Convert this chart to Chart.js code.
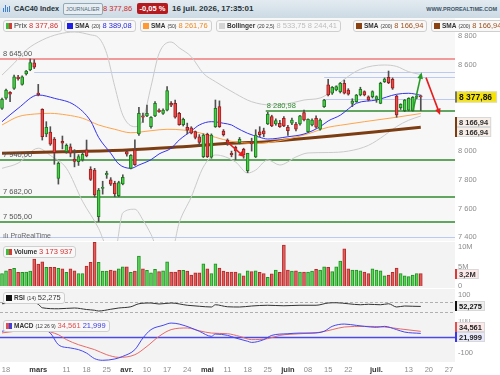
<!DOCTYPE html>
<html>
<head>
<meta charset="utf-8">
<title>CAC40 Index</title>
<script src="https://cdn.jsdelivr.net/npm/chart.js@4.4.1/dist/chart.umd.min.js"></script>
<style>
  body { margin: 0; background: #fff; }
  #wrap { position: relative; width: 500px; height: 375px; overflow: hidden; font-family: "Liberation Sans", Arial, sans-serif; }
  #wrap canvas { position: absolute; left: 0; }
  .abs { position: absolute; white-space: nowrap; }
  #hdr { left: 0; top: 0; width: 500px; height: 18px; background: linear-gradient(#e3ebf1, #ccdae4); }
  .leg { position: absolute; height: 10px; border: 1px solid #cfcfcf; border-radius: 3px; background: #f8f8f8; font-size: 7.5px; line-height: 10px; white-space: nowrap; padding: 0 3px 0 2px; color: #333; }
  .sq { display: inline-block; width: 6px; height: 6px; margin-right: 2px; vertical-align: -0.5px; }
  .nm { font-weight: bold; font-size: 6.5px; }
  .pm { font-size: 5px; margin-right: 2px; }
</style>
</head>
<body>
<div id="wrap">
  <div id="hdr" class="abs">
    <span class="abs" style="left:3px;top:5px;width:8px;height:8px;">
      <span class="abs" style="left:0;top:3px;width:1px;height:4px;background:#3c7fd0"></span>
      <span class="abs" style="left:2px;top:0;width:1px;height:7px;background:#3c7fd0"></span>
      <span class="abs" style="left:4px;top:2px;width:1px;height:5px;background:#3c7fd0"></span>
      <span class="abs" style="left:6px;top:1px;width:1px;height:6px;background:#3c7fd0"></span>
    </span>
    <span class="abs" style="left:14px;top:4px;font-size:7.3px;font-weight:bold;color:#263238">CAC40 Index</span>
    <span class="abs" style="left:63px;top:3px;height:10px;line-height:10px;padding:0 2px;border:1px solid #94a8b6;border-radius:2px;background:#e6eef3;font-size:5.3px;color:#4f6575">JOURNALIER</span>
    <span class="abs" id="hdrLast" style="left:103px;top:4px;font-size:7.5px;color:#d02727"></span>
    <span class="abs" style="left:137px;top:3px;width:31px;height:11px;line-height:11px;text-align:center;border-radius:2px;background:#b51a1f;color:#fff;font-size:7.5px;font-weight:bold">-0,05 %</span>
    <span class="abs" style="left:172px;top:4px;font-size:8px;font-weight:bold;color:#263238">16 juil. 2026, 17:35:01</span>
    <span class="abs" style="right:3px;top:6px;font-size:5.5px;font-weight:bold;color:#3d5566">WWW.PROREALTIME.COM</span>
  </div>

  <canvas id="price" width="500" height="223" style="top:18px"></canvas>
  <canvas id="vol" width="500" height="46" style="top:242px"></canvas>
  <canvas id="rsi" width="500" height="30" style="top:289px"></canvas>
  <canvas id="macd" width="500" height="56" style="top:319px"></canvas>

  <div class="leg" style="left:3px;top:20px"><span class="sq" style="background:linear-gradient(90deg,#3cbf3c 50%,#d83a3a 50%)"></span>Prix <span id="lgPrix" style="color:#d63030"></span></div>
  <div class="leg" style="left:64px;top:20px"><span class="sq" style="background:#1f1fe6"></span><span class="nm">SMA</span> <span class="pm">(20)</span><span id="lgSma20" style="color:#2727e0"></span></div>
  <div class="leg" style="left:140px;top:20px"><span class="sq" style="background:#ff9a33"></span><span class="nm">SMA</span> <span class="pm">(50)</span><span id="lgSma50" style="color:#f08a22"></span></div>
  <div class="leg" style="left:216px;top:20px"><span class="sq" style="background:#d4d4d4"></span><span class="nm">Bollinger</span> <span class="pm">(20 2,5)</span><span id="lgBoll" style="color:#bdbdbd"></span></div>
  <div class="leg" style="left:353px;top:20px"><span class="sq" style="background:#8a4212"></span><span class="nm">SMA</span> <span class="pm">(200)</span><span id="lgSma200a" style="color:#a0521f"></span></div>
  <div class="leg" style="left:431px;top:20px"><span class="sq" style="background:#8a4212"></span><span class="nm">SMA</span> <span class="pm">(200)</span><span id="lgSma200b" style="color:#a0521f"></span></div>

  <span class="abs" style="left:3px;top:232px;font-size:7px;color:#666">ılı ProRealTime</span>
  <div class="leg" style="left:3px;top:246px"><span class="sq" style="background:linear-gradient(90deg,#3cbf3c 50%,#d83a3a 50%)"></span><span class="nm">Volume</span> <span style="color:#d63030">3 173 937</span></div>
  <div class="leg" style="left:3px;top:292px"><span class="sq" style="background:#111"></span><span class="nm">RSI</span> <span class="pm">(14)</span><span id="lgRsi"></span></div>
  <div class="leg" style="left:3px;top:320px"><span class="sq" style="background:linear-gradient(90deg,#e05050 50%,#4040e0 50%)"></span><span class="nm">MACD</span> <span class="pm">(12 26 9)</span><span id="lgMacd" style="color:#e05050"></span> <span id="lgSig" style="color:#3a3ae0"></span></div>
</div>

<script>
// trading days shown on the x axis (dd/mm), last 8 are empty days on the right
const days = ['17/02','18/02','19/02','20/02','23/02','24/02','25/02','26/02','27/02',
  '02/03','03/03','04/03','05/03','06/03','09/03','10/03','11/03','12/03','13/03','16/03','17/03','18/03','19/03','20/03','23/03','24/03','25/03','26/03','27/03','30/03','31/03',
  '01/04','02/04','07/04','08/04','09/04','10/04','13/04','14/04','15/04','16/04','17/04','20/04','21/04','22/04','23/04','24/04','27/04','28/04','29/04','30/04',
  '04/05','05/05','06/05','07/05','08/05','11/05','12/05','13/05','14/05','15/05','18/05','19/05','20/05','21/05','22/05','25/05','26/05','27/05','28/05','29/05',
  '01/06','02/06','03/06','04/06','05/06','08/06','09/06','10/06','11/06','12/06','15/06','16/06','17/06','18/06','19/06','22/06','23/06','24/06','25/06','26/06','29/06','30/06',
  '01/07','02/07','03/07','06/07','07/07','08/07','09/07','10/07','13/07','14/07','15/07','16/07',
  '17/07','20/07','21/07','22/07','23/07','24/07','27/07','28/07']

const tickDays = ['18/02','02/03','11/03','18/03','25/03','01/04','10/04','17/04','24/04','04/05','11/05','18/05','25/05','01/06','08/06','15/06','22/06','01/07','13/07','20/07','27/07']
const tickText = ['18','mars','11','18','25','avr.','10','17','24','mai','11','18','25','juin','08','15','22','juil.','13','20','27']

// daily candles
const opens = [8298,8368,8410,8437,8515,8465,8537,8565,8615,8405,
  8291,8119,8133,8084,7810,8068,7996,8030,7945,7926,
  7938,8008,7873,7868,7543,7740,7835,7800,7776,7690,
  7771,7996,7880,8008,8119,8245,8245,8170,8245,8286,
  8263,8286,8333,8333,8263,8185,8165,8163,8136,8100,
  7961,8117,7958,8170,8310,8140,8077,7985,8026,8059,
  8013,7864,8060,7960,8135,8142,8189,8240,8189,8194,
  8229,8166,8194,8189,8189,8268,8136,8182,8229,8152,
  8310,8461,8403,8426,8414,8472,8426,8333,8344,8391,
  8414,8379,8379,8360,8333,8484,8514,8500,8384,8303,
  8282,8286,8282,8375,8383]
const highs = [8370,8432,8415,8530,8528,8525,8562,8642,8638,8465,
  8295,8205,8170,8095,7925,8105,8050,8050,8010,7975,
  7990,8077,7891,7880,7740,7790,7860,7815,7790,7790,
  7835,8005,7975,8078,8305,8265,8321,8240,8345,8295,
  8295,8449,8345,8356,8270,8230,8195,8170,8140,8115,
  8120,8125,8120,8356,8350,8150,8085,8000,8035,8095,
  8020,7985,8090,8149,8170,8160,8270,8250,8225,8215,
  8240,8180,8230,8200,8250,8285,8225,8225,8245,8225,
  8360,8500,8450,8455,8478,8495,8435,8365,8395,8445,
  8420,8385,8420,8385,8480,8510,8558,8510,8390,8330,
  8360,8372,8380,8392,8390]
const lows = [8290,8360,8344,8430,8495,8460,8530,8560,8575,8385,
  8077,8100,8040,7908,7770,8015,7985,7960,7890,7900,
  7930,7960,7795,7680,7508,7700,7810,7760,7682,7682,
  7765,7965,7875,7900,8110,8200,8240,8160,8240,8270,
  8255,8280,8310,8230,8180,8175,8120,8120,8085,8040,
  7955,7955,7950,8165,8165,8105,8040,7960,7940,8050,
  7950,7850,8000,7955,8100,8100,8185,8170,8180,8165,
  8170,8110,8185,8140,8180,8210,8130,8175,8160,8145,
  8305,8385,8395,8420,8405,8398,8390,8310,8340,8385,
  8385,8350,8370,8340,8330,8478,8470,8430,8236,8290,
  8275,8280,8278,8365,8282]
const closes = [8361,8426,8396,8518,8505,8518,8558,8616,8585,8392,
  8100,8166,8049,7989,7915,8055,8040,7985,7928,7961,
  7978,7966,7803,7694,7729,7746,7845,7770,7701,7781,
  7817,7978,7970,7905,8263,8236,8263,8236,8333,8275,
  8286,8421,8320,8236,8185,8221,8145,8125,8096,8060,
  8112,7961,8112,8298,8170,8115,8061,7975,8001,8082,
  7973,7985,8050,8112,8115,8119,8258,8175,8212,8170,
  8175,8142,8217,8152,8245,8217,8221,8217,8166,8217,
  8356,8391,8445,8449,8472,8403,8396,8349,8391,8431,
  8391,8356,8414,8380,8472,8502,8477,8438,8252,8326,
  8356,8368,8375,8382,8377.86]

// volume in millions
const volume = [3.2,3.9,4.3,4.5,3.5,3.5,3.6,3.8,6.9,5.6,
  6.2,4.8,4.8,4.8,4.5,4.4,3.5,4.4,3.9,3.2,
  3.2,5.1,6.1,11.2,6.1,3.8,3.8,4.1,3.9,4.4,
  4.9,4.9,3.5,3.8,7.7,4.4,4.0,3.4,4.3,3.7,
  3.9,6.2,3.6,3.6,4.0,4.0,3.8,2.8,3.4,3.4,
  5.7,4.4,3.2,5.7,4.6,3.8,3.6,3.6,3.6,3.2,
  2.6,3.9,3.7,3.9,3.5,3.2,2.2,3.1,4.1,3.5,
  10.5,4.1,3.8,3.9,3.6,3.6,3.6,3.8,4.3,4.1,
  4.9,4.8,3.7,4.9,6.4,9.5,4.4,4.1,4.1,3.9,
  3.6,3.2,4.4,4.1,3.9,2.6,2.8,3.5,4.6,3.2,
  2.6,2.4,2.8,3.2,3.17]

// indicator lines (day index -> value)
const sma20Idx = [0,4,9,13,18,22,24,27,29,32,34,37,39,42,44,47,49,52,55,57,58,61,64,66,71,75,79,81,84,88,93,98,101,104]
const sma20Val = [8205,8298,8391,8368,8321,8210,8095,7985,7910,7880,7903,7940,7980,8020,8077,8140,8182,8205,8194,8182,8166,8124,8096,8084,8100,8119,8170,8210,8250,8333,8356,8396,8403,8389.08]
const sma50Idx = [0,4,8,12,16,20,24,28,32,37,41,45,49,53,57,63,66,75,81,84,90,98,104]
const sma50Val = [8182,8240,8258,8263,8252,8229,8182,8152,8128,8142,8152,8147,8128,8096,8068,8054,8059,8112,8166,8180,8205,8236,8261.76]
const sma200Idx = [0,15,31,42,57,66,70,82,93,104]
const sma200Val = [7985,7995,8008,8025,8054,8066,8075,8105,8135,8166.94]
const bollUpIdx = [0,3,6,10,14,18,22,24,26,28,30,33,35,37,39,42,44,47,50,53,58,62,67,71,75,79,81,85,89,95,98,101,104]
const bollUpVal = [8530,8612,8704,8774,8815,8830,8810,8790,8680,8450,8250,8170,8220,8450,8680,8760,8720,8658,8542,8484,8400,8344,8321,8330,8356,8370,8400,8500,8570,8600,8590,8553,8533.75]
const bollDnIdx = [0,4,9,12,16,20,24,26,28,30,33,35,37,39,42,44,47,50,53,58,61,63,66,69,73,76,81,86,91,95,98,101,104]
const bollDnVal = [7880,7916,8020,7970,7880,7650,7460,7330,7300,7570,7595,7520,7420,7300,7290,7500,7680,7889,7973,7924,7847,7868,7938,7903,7959,7987,7990,8000,8040,8110,8171,8215,8244.41]

const rsiIdx = [0,4,7,9,10,14,18,21,23,24,27,29,32,34,37,39,42,46,49,52,53,56,59,62,66,70,74,78,81,83,86,89,91,94,96,98,100,102,104]
const rsiVal = [63,68,72,61,47,43,46,40,37,34,41,46,51,63,66,62,66,57,53,50,59,51,50,54,57,55,57,57,66,67,63,59,61,59,63,50,54,53,52.275]

const macdIdx = [0,4,8,12,14,17,19,21,23,25,28,30,33,35,37,40,42,44,47,49,52,53,56,58,61,62,65,67,71,74,77,80,82,85,88,90,93,95,98,100,104]
const macdVal = [35,55,60,24,-47,-67,-77,-98,-132,-142,-134,-118,-77,-6,45,71,85,79,55,35,4,18,10,-6,-26,-33,-16,10,20,24,24,35,65,79,71,65,59,65,45,30,21.999]
const sigIdx = [0,6,10,14,16,19,23,26,29,33,36,39,42,46,49,52,56,59,62,66,69,74,79,82,85,90,95,99,104]
const sigVal = [25,40,38,14,-16,-47,-77,-108,-124,-108,-57,4,45,55,38,24,20,4,-16,-10,10,20,29,45,61,65,61,49,34.561]

// horizontal levels drawn on the price panel
const levelVals = [8645, 7940, 7682, 7505]
const levelColors = ['#f29a9a', '#2f8a2f', '#2f8a2f', '#2f8a2f']
const supportVal = 8280.98
const supportFrom = 66
const faintVals = [8551, 8514, 8361, 7400]
const faintFrom = [8, 80, 80, 0]
// arrows: [day index, price] start and end
const arrows = [
  { from: [55.9, 8065], to: [60.3, 7957], color: '#e32020' },
  { from: [102.1, 8286], to: [104.2, 8549], color: '#279a27' },
  { from: [105.3, 8512], to: [108.8, 8252], color: '#e32020' }
]

const green = '#46cf46', greenEdge = '#1c7a1c', red = '#e84a4a', redEdge = '#a01c1c'
const FONT = '"Liberation Sans", Arial, sans-serif'
Chart.defaults.font.family = FONT
Chart.defaults.font.size = 7.5

const frNum = (v, d) => v.toFixed(d).replace('.', ',').replace(/\B(?=(\d{3})+(?!\d))/g, ' ')
const pts = (idx, val) => idx.map((k, j) => ({ x: days[k], y: val[j] }))
const up = closes.map((c, i) => c >= opens[i])
const last = a => a[a.length - 1]

// legend texts
document.getElementById('hdrLast').textContent = frNum(last(closes), 2)
document.getElementById('lgPrix').textContent = frNum(last(closes), 2)
document.getElementById('lgSma20').textContent = frNum(last(sma20Val), 2)
document.getElementById('lgSma50').textContent = frNum(last(sma50Val), 2)
document.getElementById('lgBoll').textContent = frNum(last(bollUpVal), 2) + '  ' + frNum(last(bollDnVal), 2)
document.getElementById('lgSma200a').textContent = frNum(last(sma200Val), 2)
document.getElementById('lgSma200b').textContent = frNum(last(sma200Val), 2)
document.getElementById('lgRsi').textContent = frNum(last(rsiVal), 3)
document.getElementById('lgMacd').textContent = frNum(last(sigVal), 3)
document.getElementById('lgSig').textContent = frNum(last(macdVal), 3)

// plugins (built as closures so chart options proxies stay out of the way)
function panelBg(color) {
  return {
    id: 'panelBg',
    beforeDraw(chart) {
      const a = chart.chartArea, ctx = chart.ctx
      ctx.save()
      ctx.fillStyle = color
      ctx.fillRect(a.left, a.top, a.width, a.height)
      ctx.restore()
    }
  }
}

function valueBoxes(items) {
  return {
    id: 'valueBoxes',
    afterDraw(chart) {
      const { ctx, chartArea: a, scales: { y } } = chart
      ctx.save()
      ctx.textBaseline = 'middle'
      items.forEach(b => {
        const size = b.size || 7.5, h = b.h || 10
        ctx.font = 'bold ' + size + 'px ' + FONT
        const cy = Math.round(y.getPixelForValue(b.value) + b.shift)
        const w = ctx.measureText(b.text).width + (b.pad || 7)
        ctx.fillStyle = b.fill
        ctx.fillRect(a.right, cy - h / 2, w, h)
        ctx.strokeStyle = '#d8d8d8'
        ctx.lineWidth = 1
        ctx.strokeRect(a.right + 0.5, cy - h / 2 + 0.5, w - 1, h - 1)
        ctx.fillStyle = b.edge
        ctx.fillRect(a.right, cy - h / 2, 2, h)
        ctx.fillStyle = b.color
        ctx.fillText(b.text, a.right + 4, cy + 0.5)
      })
      ctx.restore()
    }
  }
}

function levelLines(lines) {
  return {
    id: 'levelLines',
    beforeDatasetsDraw(chart) {
      const { ctx, chartArea: a, scales: { y } } = chart
      ctx.save()
      lines.forEach(l => {
        const py = Math.round(y.getPixelForValue(l.value)) + 0.5
        ctx.strokeStyle = l.color
        ctx.lineWidth = l.width
        ctx.setLineDash(l.dash || [])
        ctx.beginPath()
        ctx.moveTo(a.left, py)
        ctx.lineTo(a.right, py)
        ctx.stroke()
      })
      ctx.restore()
    }
  }
}

function drawArrow(ctx, x1, y1, x2, y2, color) {
  const ang = Math.atan2(y2 - y1, x2 - x1), h = 7
  ctx.strokeStyle = color
  ctx.fillStyle = color
  ctx.lineWidth = 1.6
  ctx.beginPath()
  ctx.moveTo(x1, y1)
  ctx.lineTo(x2 - Math.cos(ang) * h * 0.7, y2 - Math.sin(ang) * h * 0.7)
  ctx.stroke()
  ctx.beginPath()
  ctx.moveTo(x2, y2)
  ctx.lineTo(x2 - h * Math.cos(ang - 0.42), y2 - h * Math.sin(ang - 0.42))
  ctx.lineTo(x2 - h * Math.cos(ang + 0.42), y2 - h * Math.sin(ang + 0.42))
  ctx.closePath()
  ctx.fill()
}

const priceDecor = {
  id: 'priceDecor',
  beforeDatasetsDraw(chart) {
    const { ctx, chartArea: a, scales: { x, y } } = chart
    ctx.save()
    ctx.lineWidth = 1
    ctx.strokeStyle = '#bccaf3'
    faintVals.forEach((v, i) => {
      const py = Math.round(y.getPixelForValue(v)) + 0.5
      ctx.beginPath()
      ctx.moveTo(faintFrom[i] === 0 ? a.left : x.getPixelForValue(faintFrom[i]), py)
      ctx.lineTo(a.right, py)
      ctx.stroke()
    })
    levelVals.forEach((v, i) => {
      const py = Math.round(y.getPixelForValue(v))
      ctx.strokeStyle = levelColors[i]
      ctx.lineWidth = i === 0 ? 2 : 1.6
      ctx.beginPath()
      ctx.moveTo(a.left, py)
      ctx.lineTo(a.right, py)
      ctx.stroke()
    })
    const sy = Math.round(y.getPixelForValue(supportVal))
    ctx.strokeStyle = '#2f8a2f'
    ctx.lineWidth = 1.6
    ctx.beginPath()
    ctx.moveTo(x.getPixelForValue(supportFrom) - 2, sy)
    ctx.lineTo(a.right, sy)
    ctx.stroke()
    ctx.restore()
  },
  afterDatasetsDraw(chart) {
    const { ctx, scales: { x, y } } = chart
    ctx.save()
    ctx.font = '7.5px ' + FONT
    ctx.textBaseline = 'alphabetic'
    levelVals.forEach(v => {
      ctx.fillStyle = '#555'
      ctx.fillText(frNum(v, 2), 3, Math.round(y.getPixelForValue(v)) - 3)
    })
    ctx.fillStyle = '#2f8a2f'
    ctx.fillText(frNum(supportVal, 2), x.getPixelForValue(supportFrom) - 1, Math.round(y.getPixelForValue(supportVal)) - 3)
    arrows.forEach(r => drawArrow(ctx,
      x.getPixelForValue(r.from[0]), y.getPixelForValue(r.from[1]),
      x.getPixelForValue(r.to[0]), y.getPixelForValue(r.to[1]), r.color))
    ctx.restore()
  }
}

// axes
function xAxis(show) {
  const ax = {
    type: 'category', offset: true, display: show,
    grid: { display: false, drawTicks: false }, border: { display: false },
    afterBuildTicks: s => { s.ticks = tickDays.map(d => ({ value: days.indexOf(d) })) },
    ticks: {
      autoSkip: false, maxRotation: 0, minRotation: 0, padding: 3,
      callback: (v, i) => tickText[i],
      color: c => isNaN(parseInt(tickText[c.index])) ? '#333' : '#8c8c8c',
      font: c => ({ size: 7.5, weight: isNaN(parseInt(tickText[c.index])) ? 'bold' : 'normal' })
    }
  }
  if (show) ax.afterFit = s => { s.height = 13; s.paddingLeft = 0; s.paddingRight = 0 }
  return ax
}

function yAxis(min, max, ticks, fmt) {
  return {
    position: 'right', min: min, max: max,
    grid: { display: false, drawTicks: false }, border: { display: false },
    afterBuildTicks: s => { s.ticks = ticks.map(v => ({ value: v })) },
    afterFit: s => { s.width = 45; s.paddingTop = 0; s.paddingBottom = 0 },
    ticks: { color: '#8c8c8c', padding: 3, font: { size: 7.5 }, callback: fmt }
  }
}

function opts(y, showX) {
  return {
    responsive: false, animation: false, devicePixelRatio: 1, events: [],
    layout: { padding: 0 },
    plugins: { legend: { display: false }, tooltip: { enabled: false } },
    scales: { x: xAxis(showX), y: y }
  }
}

const lineSet = (data, color, width, order) => ({
  type: 'line', data: data, borderColor: color, borderWidth: width,
  pointRadius: 0, fill: false, cubicInterpolationMode: 'monotone', order: order
})

// price panel
new Chart(document.getElementById('price'), {
  type: 'bar',
  data: {
    labels: days,
    datasets: [
      {
        data: opens.map((o, i) => [o, closes[i]]),
        backgroundColor: up.map(u => u ? green : red),
        borderColor: up.map(u => u ? greenEdge : redEdge),
        borderWidth: 1, borderSkipped: false, barThickness: 3, minBarLength: 1,
        grouped: false, order: 1
      },
      {
        data: lows.map((l, i) => [l, highs[i]]),
        backgroundColor: '#505050', barThickness: 1, grouped: false, order: 2
      },
      lineSet(pts(bollUpIdx, bollUpVal), '#cacaca', 1, 7),
      lineSet(pts(bollDnIdx, bollDnVal), '#cacaca', 1, 7),
      lineSet(pts(sma200Idx, sma200Val), '#7c3d12', 3, 6),
      lineSet(pts(sma50Idx, sma50Val), '#ffa54a', 1, 5),
      lineSet(pts(sma20Idx, sma20Val), '#3333f0', 1, 4)
    ]
  },
  options: opts(yAxis(7373.5, 8927.5, [7400, 7600, 7800, 8000, 8200, 8400, 8600, 8800], v => frNum(v, 0)), false),
  plugins: [
    panelBg('#f7f7f7'),
    priceDecor,
    valueBoxes([
      { value: last(closes), shift: 0, size: 8.5, h: 11, pad: 9, text: frNum(last(closes), 2), fill: '#f7e300', edge: '#777', color: '#111' },
      { value: last(sma200Val), shift: -5, text: frNum(last(sma200Val), 2), fill: '#f6eee7', edge: '#7c3d12', color: '#333' },
      { value: last(sma200Val), shift: 5, text: frNum(last(sma200Val), 2), fill: '#f6eee7', edge: '#7c3d12', color: '#333' }
    ])
  ]
})

// volume panel
new Chart(document.getElementById('vol'), {
  type: 'bar',
  data: {
    labels: days,
    datasets: [{
      data: volume,
      backgroundColor: up.map(u => u ? '#55d655' : '#e35d5d'),
      borderColor: up.map(u => u ? '#239023' : '#b52a2a'),
      borderWidth: 1, barThickness: 3
    }]
  },
  options: opts(yAxis(-0.51, 11.28, [0, 5, 10], v => v === 0 ? '0' : v + 'M'), false),
  plugins: [
    panelBg('#f3f3f3'),
    valueBoxes([
      { value: last(volume), shift: 0, text: frNum(last(volume), 1) + 'M', fill: '#fde9e9', edge: '#d83a3a', color: '#333' }
    ])
  ]
})

// RSI panel
new Chart(document.getElementById('rsi'), {
  type: 'line',
  data: {
    labels: days,
    datasets: [lineSet(pts(rsiIdx, rsiVal), '#333', 1, 1)]
  },
  options: opts(yAxis(2, 122, [100], v => String(v)), false),
  plugins: [
    panelBg('#f3f3f3'),
    levelLines([
      { value: 70, color: '#b0b0b0', width: 1, dash: [3, 2] },
      { value: 30, color: '#b0b0b0', width: 1, dash: [3, 2] }
    ]),
    valueBoxes([
      { value: last(rsiVal), shift: 0, text: frNum(last(rsiVal), 3), fill: '#eeeeee', edge: '#111', color: '#111' }
    ])
  ]
})

// MACD panel with the date axis
new Chart(document.getElementById('macd'), {
  type: 'line',
  data: {
    labels: days,
    datasets: [
      lineSet(pts(sigIdx, sigVal), '#e86a6a', 1, 2),
      lineSet(pts(macdIdx, macdVal), '#4646f0', 1, 1)
    ]
  },
  options: opts(yAxis(-152.4, 109.8, [100, -100], v => String(v)), true),
  plugins: [
    panelBg('#f3f3f3'),
    levelLines([{ value: 0, color: '#4a4ae6', width: 1.4 }]),
    valueBoxes([
      { value: last(sigVal), shift: -4, text: frNum(last(sigVal), 3), fill: '#fde9e9', edge: '#e05050', color: '#222' },
      { value: last(macdVal), shift: 4, text: frNum(last(macdVal), 3), fill: '#e9e9fd', edge: '#3a3ae0', color: '#222' }
    ])
  ]
})
</script>
</body>
</html>
